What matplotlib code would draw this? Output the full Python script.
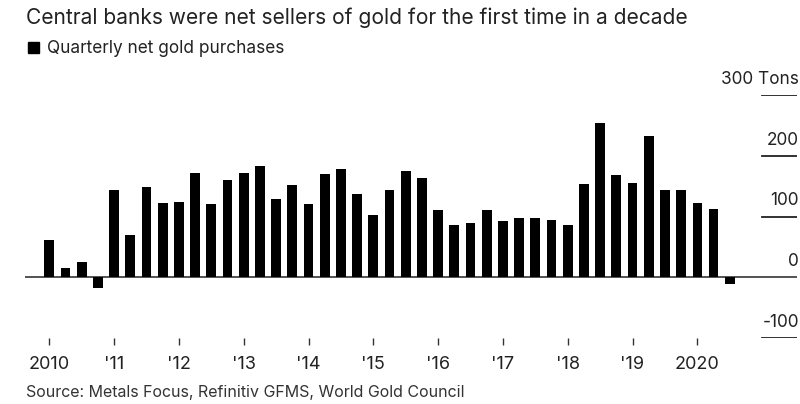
import matplotlib
matplotlib.use("Agg")
import matplotlib.pyplot as plt
from matplotlib.patches import Rectangle
import numpy as np

plt.rcParams['font.family'] = ['Inter', 'DejaVu Sans']

# Quarterly net gold purchases by central banks (tons), 2010 Q1 .. 2020 Q3
quarters = [f"{y} Q{q}" for y in range(2010, 2021) for q in range(1, 5)][:43]
net_purchases = [61, 15, 25, -18,
                 143, 69, 149, 122,
                 124, 172, 120, 160,
                 172, 183, 128, 152,
                 120, 170, 179, 137,
                 103, 143, 175, 164,
                 111, 86, 90, 111,
                 93, 97, 97, 95,
                 86, 153, 254, 168,
                 155, 233, 143, 143,
                 122, 113, -11]
year_labels = ["2010", "'11", "'12", "'13", "'14", "'15", "'16", "'17", "'18", "'19", "2020"]
y_ticks = [300, 200, 100, 0, -100]
y_tick_labels = ["300 Tons", "200", "100", "0", "-100"]

W, H = 800, 404
fig = plt.figure(figsize=(W / 100, H / 100), dpi=100)

# axes: x pixels 25..797, y pixels 95 (300) .. 338 (-100)
left, right = 25, 797
top, bottom = 95, 338
ax = fig.add_axes([left / W, 1 - bottom / H, (right - left) / W, (bottom - top) / H])

x = np.arange(len(net_purchases))
ax.bar(x, net_purchases, width=0.6, color='black', zorder=3)

ax.set_xlim(-1.5, 46.15)
ax.set_ylim(-100, 300)

for s in ax.spines.values():
    s.set_visible(False)

# zero baseline across the whole plot
ax.axhline(0, color='#444444', lw=1.3, zorder=2)
# short gridlines at the right
for v in y_ticks:
    if v != 0:
        ax.axhline(v, xmin=0.955, xmax=1.0, color='#222222', lw=1.3, zorder=2)

# y labels above their lines, right-aligned
for v, lab in zip(y_ticks, y_tick_labels):
    ax.annotate(lab, xy=(1.0, v), xycoords=('axes fraction', 'data'),
                xytext=(1.5, 8), textcoords='offset points',
                ha='right', va='baseline', fontsize=12.4, color='#222222')

ax.set_yticks([])
ax.set_xticks(x[::4])
ax.set_xticklabels(year_labels)
ax.tick_params(axis='x', length=5, width=1, color='#333333', pad=8,
               labelsize=13, labelcolor='#222222')

# title, legend, source
fig.text(26 / W, 1 - 24 / H, "Central banks were net sellers of gold for the first time in a decade",
         fontsize=15.1, color='#222222', va='baseline', ha='left')
fig.patches.append(Rectangle((28 / W, 1 - 53 / H), 11 / W, 11 / H,
                             transform=fig.transFigure, color='black', figure=fig))
fig.text(47 / W, 1 - 53 / H, "Quarterly net gold purchases",
         fontsize=12.4, color='#222222', va='baseline', ha='left')
fig.text(26 / W, 1 - 397 / H, "Source: Metals Focus, Refinitiv GFMS, World Gold Council",
         fontsize=11.5, color='#333333', va='baseline', ha='left')

fig.savefig("out.png", dpi=100)
